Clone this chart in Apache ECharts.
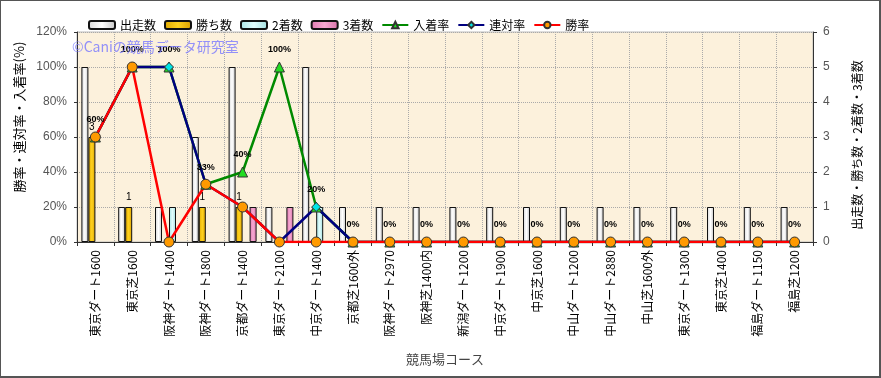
<!DOCTYPE html>
<html>
<head>
<meta charset="utf-8">
<script src="https://cdn.jsdelivr.net/npm/echarts@6/dist/echarts.min.js"></script>
<style>
  html, body { margin: 0; padding: 0; background: #fff; }
  #wrap { position: relative; width: 881px; height: 378px; }
  #chart { width: 881px; height: 378px; }
  #frame { position: absolute; left: 0; top: 0; width: 881px; height: 378px; box-sizing: border-box;
           border: 1px solid #555; border-right-width: 2px; border-bottom-width: 2px; pointer-events: none; }
</style>
</head>
<body>
<div id="wrap">
  <div id="chart"></div>
  <div id="frame"></div>
</div>
<script>
// 競馬場コース別成績
const courses = ['東京ダート1600', '東京芝1600', '阪神ダート1400', '阪神ダート1800', '京都ダート1400',
  '東京ダート2100', '中京ダート1400', '京都芝1600外', '阪神ダート2970', '阪神芝1400内',
  '新潟ダート1200', '中京ダート1900', '中京芝1600', '中山ダート1200', '中山ダート2880',
  '中山芝1600外', '東京ダート1300', '東京芝1400', '福島ダート1150', '福島芝1200']

const starts  = [5, 1, 1, 3, 5, 1, 5, 1, 1, 1, 1, 1, 1, 1, 1, 1, 1, 1, 1, 1]
const wins    = [3, 1, 0, 1, 1, 0, 0, 0, 0, 0, 0, 0, 0, 0, 0, 0, 0, 0, 0, 0]
const seconds = [0, 0, 1, 0, 0, 0, 1, 0, 0, 0, 0, 0, 0, 0, 0, 0, 0, 0, 0, 0]
const thirds  = [0, 0, 0, 0, 1, 1, 0, 0, 0, 0, 0, 0, 0, 0, 0, 0, 0, 0, 0, 0]

// 率 (%)
const placeRate  = [60, 100, 100, 33, 40, 100, 20, 0, 0, 0, 0, 0, 0, 0, 0, 0, 0, 0, 0, 0]
const rentaiRate = [60, 100, 100, 33, 20, 0, 20, 0, 0, 0, 0, 0, 0, 0, 0, 0, 0, 0, 0, 0]
const winRate    = [60, 100, 0, 33, 20, 0, 0, 0, 0, 0, 0, 0, 0, 0, 0, 0, 0, 0, 0, 0]

const rateTicks  = [0, 20, 40, 60, 80, 100, 120]
const countTicks = [0, 1, 2, 3, 4, 5, 6]

const FONT = '"Noto Sans CJK JP", "Noto Sans", sans-serif'

function grad(a, b, c) {
  return new echarts.graphic.LinearGradient(0, 0, 1, 0, [
    { offset: 0, color: a }, { offset: 0.5, color: b }, { offset: 1, color: c }
  ])
}

function barSeries(name, data, fill, withLabel) {
  return {
    name, type: 'bar', yAxisIndex: 1,
    barWidth: 7, barGap: '0%',
    data: data.map(v => v || null),
    itemStyle: { color: fill, borderColor: '#111', borderWidth: 1 },
    label: withLabel ? {
      show: true, position: 'top', distance: 5,
      fontSize: 10, color: '#000', fontFamily: 'Liberation Sans, Arial'
    } : { show: false }
  }
}

function lineSeries(name, data, lineColor, symbol, symbolSize, fill, withLabel) {
  return {
    name, type: 'line', yAxisIndex: 0,
    data,
    symbol, symbolSize,
    lineStyle: { color: lineColor, width: 2.5 },
    itemStyle: { color: fill, borderColor: '#333', borderWidth: 1 },
    label: withLabel ? {
      show: true, position: 'top', distance: 7,
      formatter: '{c}%', fontSize: 9, fontWeight: 'bold',
      color: '#000', fontFamily: 'Liberation Sans, Arial'
    } : { show: false }
  }
}

const chart = echarts.init(document.getElementById('chart'))

chart.setOption({
  animation: false,
  textStyle: { fontFamily: FONT },
  legend: {
    left: 83, top: 14, itemGap: 8, itemWidth: 26, itemHeight: 8,
    textStyle: { fontSize: 12, color: '#000', fontFamily: FONT },
    data: [
      { name: '出走数', icon: 'roundRect' },
      { name: '勝ち数', icon: 'roundRect' },
      { name: '2着数', icon: 'roundRect' },
      { name: '3着数', icon: 'roundRect' },
      { name: '入着率' }, { name: '連対率' }, { name: '勝率' }
    ]
  },
  grid: {
    left: 77, right: 68, top: 32, bottom: 136,
    show: true, backgroundColor: '#fcf1dc', borderColor: '#bbb', borderWidth: 1
  },
  graphic: [{
    type: 'text', left: 72, top: 40, z: 100,
    style: {
      text: '©Caniの競馬データ研究室', fill: 'rgba(120,120,255,0.8)',
      font: '14px "Noto Sans CJK JP"'
    }
  }],
  xAxis: {
    type: 'category', data: courses,
    name: '競馬場コース', nameLocation: 'middle', nameGap: 111,
    nameTextStyle: { fontSize: 13, color: '#444', fontFamily: FONT },
    axisLine: { lineStyle: { color: '#333' } },
    axisTick: { show: true, interval: 0, length: 4, lineStyle: { color: '#333' } },
    axisLabel: { interval: 0, rotate: 90, margin: 8, fontSize: 12, color: '#000', fontFamily: FONT },
    splitLine: { show: true, interval: 0, lineStyle: { color: '#aaa', type: 'dotted' } }
  },
  yAxis: [{
    type: 'value', min: rateTicks[0], max: rateTicks[rateTicks.length - 1], interval: 20,
    name: '勝率・連対率・入着率(%)', nameLocation: 'middle', nameRotate: 90, nameGap: 50,
    nameTextStyle: { fontSize: 13, color: '#000', fontFamily: FONT, padding: [0, 0, 0, 40] },
    axisLine: { show: true, lineStyle: { color: '#333' } },
    axisTick: { show: true, length: 3, lineStyle: { color: '#333' } },
    axisLabel: { formatter: '{value}%', margin: 10, fontSize: 12, color: '#555', fontFamily: 'Liberation Sans, Arial' },
    splitLine: { show: true, lineStyle: { color: '#aaa', type: 'dotted' } }
  }, {
    type: 'value', position: 'right',
    min: countTicks[0], max: countTicks[countTicks.length - 1], interval: 1,
    name: '出走数・勝ち数・2着数・3着数', nameLocation: 'middle', nameRotate: 90, nameGap: 38,
    nameTextStyle: { fontSize: 12, color: '#000', fontFamily: FONT, padding: [0, 16, 0, 0] },
    axisLine: { show: true, lineStyle: { color: '#333' } },
    axisTick: { show: true, length: 4, lineStyle: { color: '#333' } },
    axisLabel: { margin: 10, fontSize: 12, color: '#555', fontFamily: 'Liberation Sans, Arial' },
    splitLine: { show: false }
  }],
  series: [
    barSeries('出走数', starts, grad('#d6d6d6', '#ffffff', '#c4c4c4'), false),
    barSeries('勝ち数', wins, grad('#e0a800', '#ffd21e', '#d89e00'), true),
    barSeries('2着数', seconds, grad('#a8e4e4', '#e0fcfc', '#a0dede'), false),
    barSeries('3着数', thirds, grad('#e07ab0', '#f6a8d2', '#d870a8'), false),
    lineSeries('入着率', placeRate, '#008a00', 'triangle', 10, '#22dd22', true),
    lineSeries('連対率', rentaiRate, '#000080', 'diamond', 9, '#00e5e5', false),
    lineSeries('勝率', winRate, '#ff0000', 'circle', 10, '#ff9a00', false)
  ]
})
</script>
</body>
</html>
